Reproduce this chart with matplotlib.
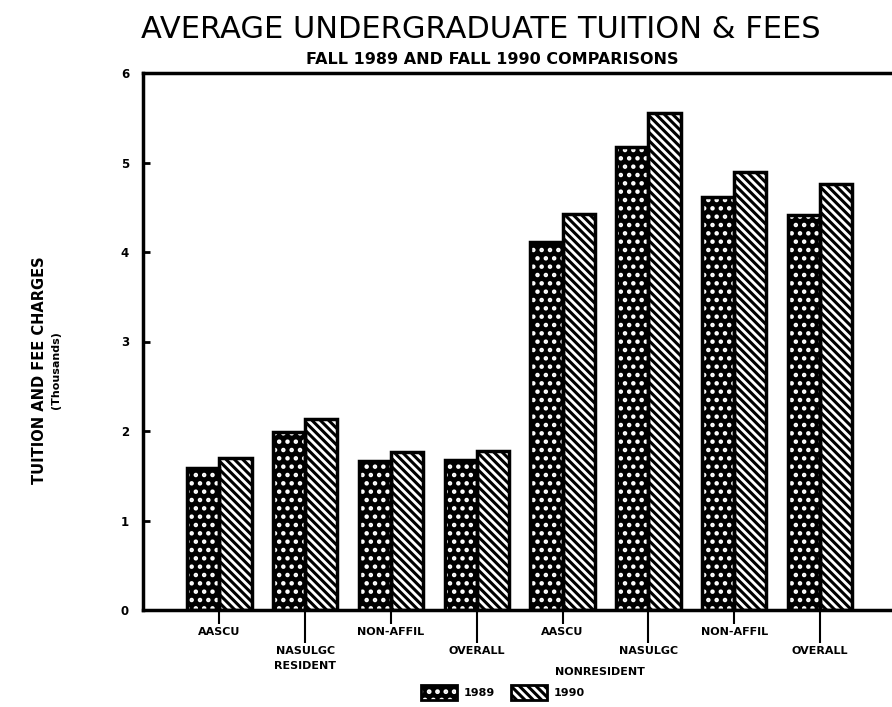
import matplotlib
matplotlib.use("Agg")
import matplotlib.pyplot as plt
import matplotlib.patches as mpatches
import matplotlib.transforms as mtransforms
from matplotlib.legend_handler import HandlerTuple
import numpy as np

categories = ["AASCU", "NASULGC", "NON-AFFIL", "OVERALL",
              "AASCU", "NASULGC", "NON-AFFIL", "OVERALL"]
values_1989 = [1.59, 1.99, 1.66, 1.68, 4.11, 5.17, 4.62, 4.41]
values_1990 = [1.70, 2.13, 1.76, 1.78, 4.42, 5.55, 4.89, 4.76]
series_labels = ["1989", "1990"]
group_labels = ["RESIDENT", "NONRESIDENT"]
yticks = [0, 1, 2, 3, 4, 5, 6]

DOTS = ".."
STRIPES = "\\\\\\\\"

W, H = 892, 707
fig = plt.figure(figsize=(W / 100, H / 100), dpi=100)
ax = fig.add_axes([143 / W, 1 - 610 / H, (892 - 143) / W, (610 - 73) / H])

x = np.arange(len(categories))
bw = 0.375

# 1989: black with white dots
plt.rcParams['hatch.linewidth'] = 2.0
ax.bar(x - bw / 2, values_1989, bw, facecolor="black", edgecolor="white",
       hatch=DOTS, linewidth=0, zorder=2)
ax.bar(x - bw / 2, values_1989, bw, fill=False, edgecolor="black",
       linewidth=2.5, zorder=3)
# 1990: white with thick black diagonal stripes
plt.rcParams['hatch.linewidth'] = 2.2
ax.bar(x + bw / 2, values_1990, bw, facecolor="white", edgecolor="black",
       hatch=STRIPES, linewidth=2.5, zorder=2)

ax.set_xlim(-0.89, 7.84)
ax.set_ylim(0, 6)

for s in ["left", "top", "bottom"]:
    ax.spines[s].set_linewidth(2.5)
ax.spines["right"].set_visible(False)

ax.set_yticks(yticks)
ax.set_yticklabels([str(t) for t in yticks], fontsize=8.5, fontweight="bold")
ax.tick_params(axis="y", direction="in", length=5, width=2, pad=10)

# staggered x tick labels: even -> major (short), odd -> minor (long)
ax.set_xticks(x[0::2])
ax.set_xticklabels(categories[0::2], fontsize=8, fontweight="bold")
ax.set_xticks(x[1::2], minor=True)
ax.set_xticklabels(categories[1::2], minor=True, fontsize=8, fontweight="bold")
ax.tick_params(axis="x", which="major", direction="out", length=10, width=1.5, pad=2)
ax.tick_params(axis="x", which="minor", direction="out", length=24, width=1.5, pad=2)

trans = mtransforms.blended_transform_factory(ax.transData, ax.transAxes)
ax.text(1.0, -0.105, group_labels[0], transform=trans, ha="center", va="center",
        fontsize=8, fontweight="bold")
ax.text(4.44, -0.116, group_labels[1], transform=trans, ha="center", va="center",
        fontsize=8, fontweight="bold")

fig.text(481 / W, 1 - 30 / H, "AVERAGE UNDERGRADUATE TUITION & FEES",
         ha="center", va="center", fontsize=22, family="DejaVu Sans")
fig.text(492 / W, 1 - 59 / H, "FALL 1989 AND FALL 1990 COMPARISONS",
         ha="center", va="center", fontsize=11.5, fontweight="bold")

fig.text(40 / W, 1 - 370 / H, "TUITION AND FEE CHARGES", rotation=90,
         ha="center", va="center", fontsize=10.5, fontweight="bold")
fig.text(56 / W, 1 - 370 / H, "(Thousands)", rotation=90,
         ha="center", va="center", fontsize=8, fontweight="bold")

plt.rcParams['hatch.linewidth'] = 2.0
h1a = mpatches.Patch(facecolor="black", edgecolor="white", hatch=DOTS, linewidth=0)
h1b = mpatches.Patch(fill=False, edgecolor="black", linewidth=2)
plt.rcParams['hatch.linewidth'] = 2.2
h2 = mpatches.Patch(facecolor="white", edgecolor="black", hatch=STRIPES, linewidth=2)
fig.legend(handles=[(h1a, h1b), h2], labels=series_labels,
           handler_map={tuple: HandlerTuple(ndivide=1, pad=0)},
           loc="center", bbox_to_anchor=(503 / W, 1 - 692 / H),
           ncol=2, frameon=False, prop={"size": 8, "weight": "bold"},
           handlelength=3.2, handleheight=1.7, columnspacing=1.5, handletextpad=0.6)

fig.savefig("out.png", dpi=100)
